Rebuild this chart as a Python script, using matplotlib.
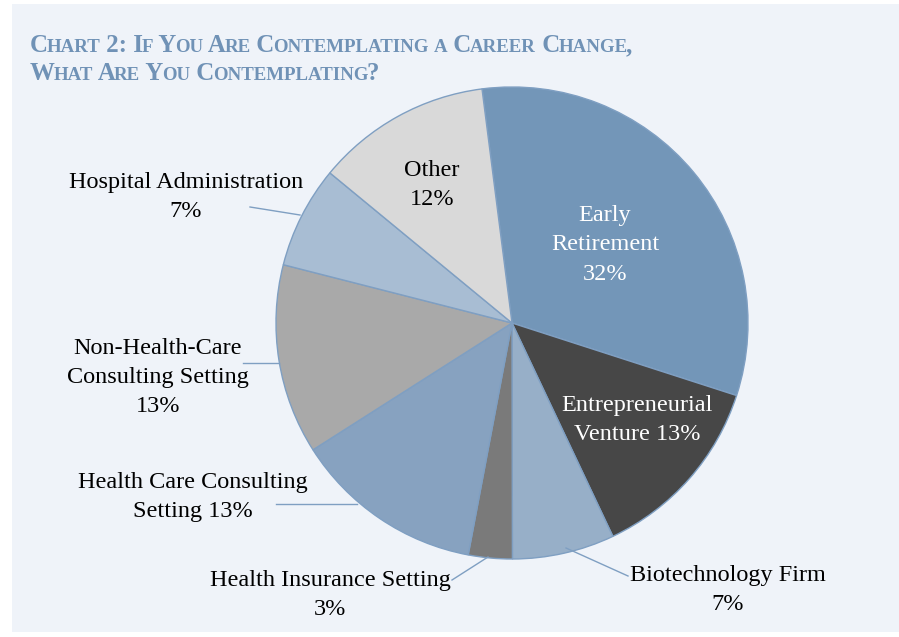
import matplotlib
matplotlib.use('Agg')
import matplotlib.pyplot as plt
from matplotlib.patches import Rectangle
import numpy as np

# data
labels = ['Early\nRetirement\n32%', 'Entrepreneurial\nVenture 13%', 'Biotechnology Firm\n7%',
          'Health Insurance Setting\n3%', 'Health Care Consulting\nSetting 13%',
          'Non-Health-Care\nConsulting Setting\n13%', 'Hospital Administration\n7%', 'Other\n12%']
shares = [32, 13, 7, 3, 13, 13, 7, 12]
colors = ['#7396b8', '#474747', '#97afc8', '#7a7a7a', '#87a2c0', '#a9a9a9', '#a8bdd3', '#d9d9d9']
text_colors = ['white', 'white', 'black', 'black', 'black', 'black', 'black', 'black']

# label placement (figure pixels, centre of text block) and leader lines
label_pos = [(605, 245), (637, 420), (728, 590), (330, 595), (193, 497), (158, 378), (186, 197), (432, 185)]
leaders = {2: ((566, 548), (628, 576)), 3: ((452, 580), (488, 557)),
           4: ((276, 504), (357, 504)), 5: ((243, 363), (279, 363)),
           6: ((250, 207), (300, 215))}

W, H = 899, 637
plt.rcParams['font.family'] = ['Liberation Serif', 'DejaVu Serif']

fig = plt.figure(figsize=(W / 100, H / 100), dpi=100, facecolor='white')
fig.patches.append(Rectangle((12 / W, 1 - 632 / H), 1, (632 - 4) / H, transform=fig.transFigure,
                             facecolor='#eff3f9', edgecolor='none', zorder=-10))

# pie: centre (512, 323), radius 236 px
cx, cy, r = 512, 323, 236
ax = fig.add_axes([(cx - r) / W, 1 - (cy + r) / H, 2 * r / W, 2 * r / H])
ax.pie(shares, colors=colors, startangle=97.3, counterclock=False, radius=1,
       wedgeprops=dict(edgecolor='#7f9fc2', linewidth=1.0))
ax.set_xlim(-1, 1)
ax.set_ylim(-1, 1)
ax.set_aspect('auto')
ax.axis('off')

def fx(px):
    return px / W

def fy(py):
    return 1 - py / H

for i, txt in enumerate(labels):
    x, y = label_pos[i]
    fig.text(fx(x), fy(y), txt, ha='center', va='center', fontsize=17.5,
             color=text_colors[i], linespacing=1.5, multialignment='center')

for i, (p0, p1) in leaders.items():
    fig.lines.append(plt.Line2D([fx(p0[0]), fx(p1[0])], [fy(p0[1]), fy(p1[1])],
                                transform=fig.transFigure, color='#7f9fc2', linewidth=1.0))

# title in small caps, built piece by piece
title_color = '#7092b6'
renderer = fig.canvas.get_renderer()

def small_caps(text, x0, y0, big=17.9, small=13.6):
    x = x0
    words = text.split(' ')
    for wi, word in enumerate(words):
        if wi > 0:
            word = ' ' + word
        chunks = []
        for ch in word:
            is_big = not ch.islower()
            if chunks and chunks[-1][1] == is_big:
                chunks[-1][0] += ch
            else:
                chunks.append([ch, is_big])
        for ci, (s, is_big) in enumerate(chunks):
            if ci > 0:
                x -= 1.5  # tighten the join inside a word
            t = fig.text(x / W, fy(y0), s.upper() if not is_big else s, fontsize=big if is_big else small,
                         fontweight='bold', color=title_color, ha='left', va='baseline')
            bb = t.get_window_extent(renderer=renderer)
            x += bb.width

small_caps('Chart 2: If You Are Contemplating a Career Change,', 30, 52)
small_caps('What Are You Contemplating?', 30, 80)

fig.savefig('out.png', dpi=100, facecolor='white')
